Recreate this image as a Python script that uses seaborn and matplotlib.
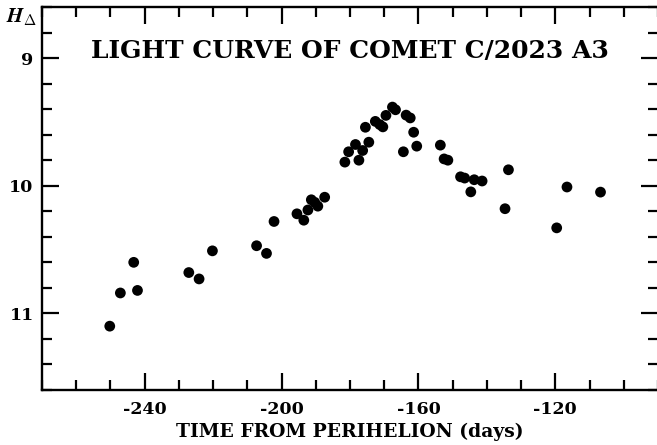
import numpy as np
import pandas as pd
import matplotlib
matplotlib.use("Agg")
import matplotlib.pyplot as plt
from matplotlib.ticker import MultipleLocator
import seaborn as sns

# days from perihelion and absolute magnitude
days = [-250.2, -247.1, -243.2, -242.1, -227.1, -224.1, -220.2, -207.3, -204.4,
        -202.2, -195.5, -193.5, -192.3, -191.3, -190.3, -189.4, -187.4,
        -181.5, -180.4, -178.4, -177.4, -176.3, -175.5, -174.5, -172.6,
        -171.3, -170.4, -169.5, -167.6, -166.7, -163.6, -162.4, -161.4,
        -164.4, -160.5, -153.6, -152.5, -151.4, -147.7, -146.5, -143.7,
        -141.4, -144.7, -133.7, -134.7, -116.6, -119.6, -106.8]
mag = [11.10, 10.84, 10.60, 10.82, 10.68, 10.73, 10.51, 10.47, 10.53,
       10.28, 10.22, 10.27, 10.19, 10.11, 10.13, 10.16, 10.09,
       9.815, 9.734, 9.677, 9.80, 9.724, 9.542, 9.659, 9.496,
       9.521, 9.539, 9.449, 9.384, 9.405, 9.447, 9.469, 9.581,
       9.734, 9.690, 9.682, 9.79, 9.80, 9.93, 9.94, 9.953,
       9.963, 10.048, 9.875, 10.18, 10.01, 10.33, 10.05]

df = pd.DataFrame({"days": days, "mag": mag})

sns.set_style("ticks")
plt.rcParams["font.family"] = ["DejaVu Serif"]
plt.rcParams["font.weight"] = "bold"
plt.rcParams["axes.labelweight"] = "bold"
plt.rcParams["text.color"] = "black"
plt.rcParams["axes.labelcolor"] = "black"
plt.rcParams["xtick.color"] = "black"
plt.rcParams["ytick.color"] = "black"
plt.rcParams["axes.unicode_minus"] = False
plt.rcParams["mathtext.fontset"] = "cm"

fig = plt.figure(figsize=(6.57, 4.45), dpi=100)
ax = fig.add_axes([42 / 657, 1 - 390 / 445, 616 / 657, 383 / 445])

sns.scatterplot(data=df, x="days", y="mag", color="black", s=60,
                edgecolor="none", ax=ax, legend=False)

ax.set_xlim(-270, -90)
ax.set_ylim(11.6, 8.6)
ax.xaxis.set_major_locator(MultipleLocator(40))
ax.xaxis.set_minor_locator(MultipleLocator(10))
ax.yaxis.set_major_locator(MultipleLocator(1))
ax.yaxis.set_minor_locator(MultipleLocator(0.2))

for s in ax.spines.values():
    s.set_linewidth(1.7)
    s.set_color("black")
ax.spines["right"].set_visible(False)
ax.tick_params(which="both", direction="in", top=True, right=True,
               width=1.6, color="black", labelcolor="black")
ax.tick_params(which="major", length=12, labelsize=12.5)
ax.tick_params(axis="x", which="major", pad=8)
ax.tick_params(axis="y", which="major", pad=6)
ax.tick_params(which="minor", length=7)

ax.set_xlabel("TIME FROM PERIHELION (days)", fontsize=13.5, labelpad=3,
              fontweight="bold", color="black")
ax.set_ylabel("")

ax.text(0.5, 0.885, "LIGHT CURVE OF COMET C/2023 A3", transform=ax.transAxes,
        ha="center", va="center", fontsize=18, fontweight="bold", color="black")
fig.text(22 / 657, 1 - 17 / 445, r"$\mathbfit{H}_{\mathbf{\Delta}}$",
         ha="center", va="center", fontsize=15, color="black")

fig.savefig("out.png", dpi=100)
